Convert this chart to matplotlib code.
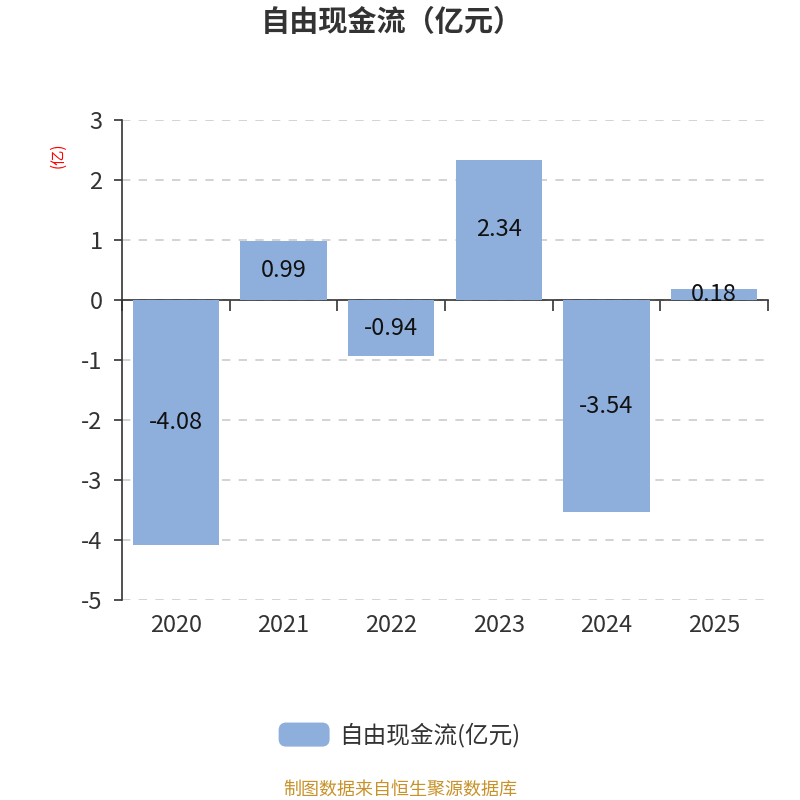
import matplotlib
matplotlib.use("Agg")
import matplotlib.pyplot as plt
from matplotlib.patches import FancyBboxPatch, Patch
from matplotlib.legend_handler import HandlerPatch

plt.rcParams['font.family'] = ['Noto Sans CJK SC', 'DejaVu Sans']

years = ['2020', '2021', '2022', '2023', '2024', '2025']
values = [-4.08, 0.99, -0.94, 2.34, -3.54, 0.18]
labels = ['-4.08', '0.99', '-0.94', '2.34', '-3.54', '0.18']
yticks = [3, 2, 1, 0, -1, -2, -3, -4, -5]

bar_color = '#8eaedb'
text_color = '#333333'

fig = plt.figure(figsize=(8, 8), dpi=100)
ax = fig.add_axes([0.1525, 0.25, 0.8075, 0.60])

x = list(range(len(years)))
ax.bar(x, values, width=0.8, color=bar_color, zorder=3)
for xi, v, lab in zip(x, values, labels):
    ax.text(xi, v / 2, lab, ha='center', va='center', fontsize=17,
            color='#111111', zorder=4)

ax.set_xlim(-0.5, len(years) - 0.5)
ax.set_ylim(-5, 3)
ax.set_yticks(yticks)
ax.set_yticklabels([str(t) for t in yticks], fontsize=17, color=text_color)
ax.yaxis.grid(True, linestyle=(0, (5, 5)), color='#cccccc', linewidth=1.2, zorder=0)

for s in ['top', 'right']:
    ax.spines[s].set_visible(False)
ax.spines['left'].set_color(text_color)
ax.spines['left'].set_linewidth(1.2)
ax.spines['bottom'].set_position(('data', 0))
ax.spines['bottom'].set_color(text_color)
ax.spines['bottom'].set_linewidth(1.2)
ax.tick_params(axis='y', length=6, width=1.2, color=text_color, pad=8)
ax.set_xticks([i - 0.5 for i in range(len(years) + 1)])
ax.set_xticklabels([])
ax.tick_params(axis='x', length=8, width=1.2, color=text_color, direction='out')

for xi, yr in zip(x, years):
    ax.text(xi, -0.03, yr, transform=ax.get_xaxis_transform(), ha='center', va='top',
            fontsize=17, color=text_color)

fig.text(0.073, 0.806, '(亿)', rotation=90, color='red', fontsize=11, ha='center', va='center')
fig.text(0.49, 0.972, '自由现金流（亿元）', ha='center', va='center', fontsize=21,
         fontweight='bold', color=text_color)
fig.text(0.5, 0.0125, '制图数据来自恒生聚源数据库', ha='center', va='center', fontsize=13,
         color='#c8922a')


def rounded(legend, orig_handle, xdescent, ydescent, width, height, fontsize):
    return FancyBboxPatch((-xdescent, -ydescent), width, height,
                          boxstyle='round,pad=0,rounding_size=5', mutation_aspect=1)


handle = Patch(color=bar_color)
fig.legend([handle], ['自由现金流(亿元)'], loc='center', bbox_to_anchor=(0.5, 0.081),
           frameon=False, fontsize=17, handlelength=2.1, handleheight=1.1,
           handletextpad=0.45, labelcolor=text_color,
           handler_map={Patch: HandlerPatch(patch_func=rounded)})

fig.savefig('out.png', dpi=100)
